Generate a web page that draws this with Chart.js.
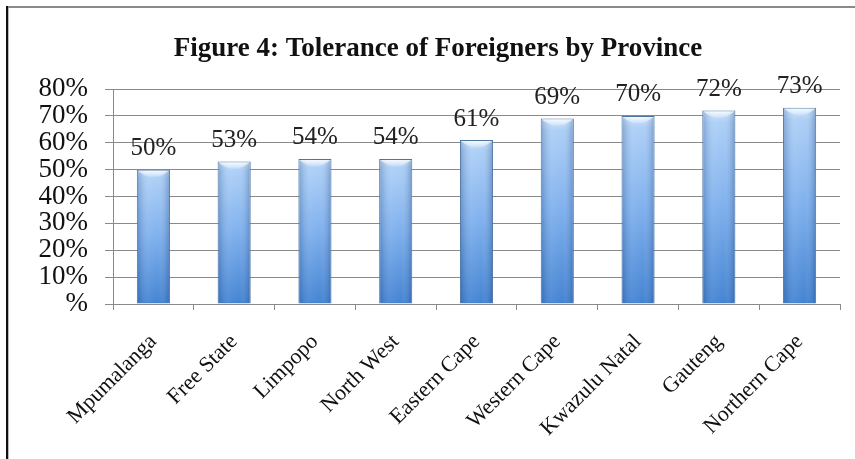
<!DOCTYPE html>
<html>
<head>
<meta charset="utf-8">
<script src="https://cdn.jsdelivr.net/npm/chart.js@4"></script>
<style>
  html, body { margin: 0; padding: 0; background: #fff; }
  #wrap { width: 855px; height: 459px; }
</style>
</head>
<body>
<div id="wrap"><canvas id="c" width="855" height="459"></canvas></div>
<script>
const categories = ['Mpumalanga', 'Free State', 'Limpopo', 'North West', 'Eastern Cape', 'Western Cape', 'Kwazulu Natal', 'Gauteng', 'Northern Cape'];
const values = [50, 53, 54, 54, 61, 69, 70, 72, 73];
const yTickValues = [0, 10, 20, 30, 40, 50, 60, 70, 80];
const titleText = 'Figure 4: Tolerance of Foreigners by Province';

const SERIF = "'Liberation Serif', 'DejaVu Serif', serif";

const framePlugin = {
  id: 'frame',
  beforeDraw(chart) {
    const ctx = chart.ctx;
    ctx.save();
    ctx.fillStyle = '#fff';
    ctx.fillRect(0, 0, chart.width, chart.height);
    ctx.restore();
  },
  afterDraw(chart) {
    const ctx = chart.ctx;
    ctx.save();
    ctx.fillStyle = '#8a8a8a';
    ctx.fillRect(6, 6, chart.width - 6, 2);
    ctx.fillStyle = '#111';
    ctx.fillRect(6, 6, 2, chart.height - 6);
    ctx.fillStyle = '#bbb';
    ctx.fillRect(8, 8, 1, chart.height - 8);
    ctx.restore();
  }
};

const barShadePlugin = {
  id: 'barShade',
  afterDatasetsDraw(chart) {
    const ctx = chart.ctx;
    const meta = chart.getDatasetMeta(0);
    ctx.save();
    meta.data.forEach((bar) => {
      const left = bar.x - bar.width / 2;
      const right = bar.x + bar.width / 2;
      const top = bar.y;
      const bottom = bar.base;
      const g = ctx.createLinearGradient(left, 0, right, 0);
      g.addColorStop(0, 'rgba(20,60,120,0.30)');
      g.addColorStop(0.35, 'rgba(255,255,255,0.10)');
      g.addColorStop(0.65, 'rgba(255,255,255,0.05)');
      g.addColorStop(1, 'rgba(20,60,120,0.35)');
      ctx.fillStyle = g;
      ctx.fillRect(left + 1, top + 1, right - left - 2, bottom - top - 2);
      const cap = ctx.createLinearGradient(0, top, 0, top + 9);
      cap.addColorStop(0, 'rgba(255,255,255,0.85)');
      cap.addColorStop(1, 'rgba(255,255,255,0)');
      ctx.fillStyle = cap;
      ctx.beginPath();
      ctx.moveTo(left + 1, top + 1);
      ctx.lineTo(right - 1, top + 1);
      ctx.quadraticCurveTo(bar.x, top + 14, left + 1, top + 1);
      ctx.fill();
    });
    ctx.restore();
  }
};

const valueLabelPlugin = {
  id: 'valueLabels',
  afterDatasetsDraw(chart) {
    const ctx = chart.ctx;
    const meta = chart.getDatasetMeta(0);
    const data = chart.data.datasets[0].data;
    ctx.save();
    ctx.font = "25px " + SERIF;
    ctx.fillStyle = '#222';
    ctx.textAlign = 'center';
    ctx.textBaseline = 'middle';
    meta.data.forEach((bar, i) => {
      ctx.fillText(data[i] + '%', bar.x, bar.y - 21);
    });
    ctx.restore();
  }
};

function barFill(context) {
  const chart = context.chart;
  const yScale = chart.scales.y;
  if (!chart.chartArea || !yScale || context.parsed === undefined) return '#7fb0ea';
  const v = context.parsed.y;
  const top = yScale.getPixelForValue(v);
  const bottom = yScale.getPixelForValue(0);
  if (!isFinite(top) || !isFinite(bottom) || bottom - top < 1) return '#7fb0ea';
  const g = chart.ctx.createLinearGradient(0, top, 0, bottom);
  g.addColorStop(0, '#cfe5fd');
  g.addColorStop(0.06, '#a9cdf6');
  g.addColorStop(0.5, '#78acec');
  g.addColorStop(1, '#3a7dd0');
  return g;
}

new Chart(document.getElementById('c'), {
  type: 'bar',
  data: {
    labels: categories,
    datasets: [{
      data: values,
      backgroundColor: barFill,
      borderColor: '#4d73a0',
      borderWidth: 1,
      barPercentage: 0.41,
      categoryPercentage: 1.0
    }]
  },
  options: {
    responsive: false,
    animation: false,
    devicePixelRatio: 1,
    layout: { padding: { left: 36, right: 15, top: 0, bottom: 0 } },
    plugins: {
      legend: { display: false },
      tooltip: { enabled: false },
      title: {
        display: true,
        text: titleText,
        color: '#111',
        font: { family: SERIF, size: 27, weight: 'bold' },
        padding: { top: 33, bottom: 23.6 }
      }
    },
    scales: {
      x: {
        grid: {
          display: true,
          drawOnChartArea: false,
          drawTicks: true,
          tickLength: 6,
          color: '#8a8a8a'
        },
        border: { display: true, color: '#8a8a8a', width: 1 },
        ticks: {
          color: '#111',
          font: { family: SERIF, size: 22 },
          minRotation: 45,
          maxRotation: 45,
          autoSkip: false,
          padding: 19
        },
        afterFit(scale) { scale.height = 155; }
      },
      y: {
        min: 0,
        max: 80,
        afterBuildTicks(scale) { scale.ticks = yTickValues.map(v => ({ value: v })); },
        grid: {
          color: '#8a8a8a',
          lineWidth: 1,
          drawTicks: true,
          tickLength: 8
        },
        border: { display: true, color: '#8a8a8a', width: 1 },
        ticks: {
          color: '#111',
          font: { family: SERIF, size: 27 },
          padding: 17,
          autoSkip: false,
          callback: (v) => (v === 0 ? '%' : v + '%')
        },
        afterFit(scale) { scale.width = 77; }
      }
    }
  },
  plugins: [framePlugin, barShadePlugin, valueLabelPlugin]
});
</script>
</body>
</html>
